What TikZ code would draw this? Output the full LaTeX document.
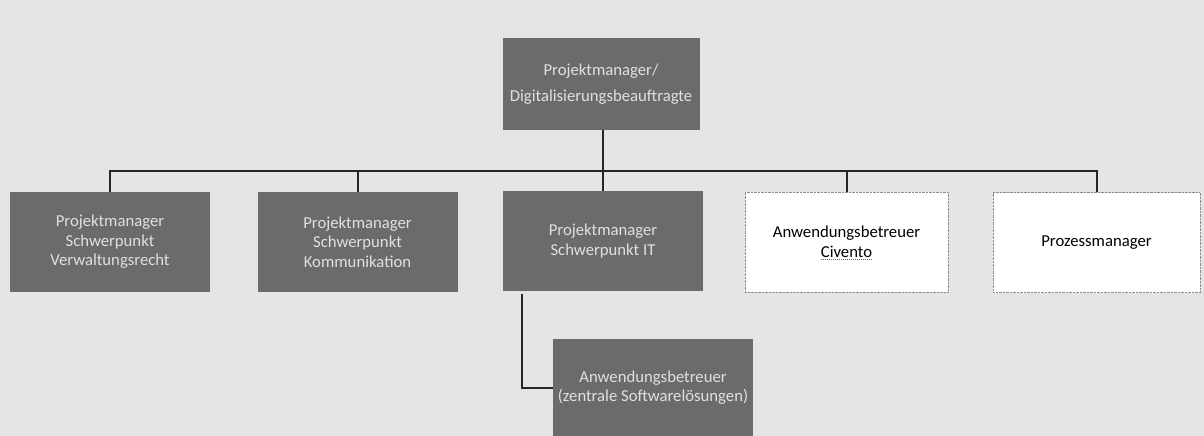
\documentclass[tikz,border=0pt]{standalone}
\usepackage{fontspec}
\setmainfont{Carlito}
\begin{document}
\begin{tikzpicture}[x=1pt,y=-1pt,
    darkbox/.style={fill=black!58, text=white!88!black, align=center,
        inner sep=0pt, minimum width=200pt, minimum height=100pt,
        font=\fontsize{16.7}{19.5}\selectfont},
    lightbox/.style={fill=white, draw=black!45, densely dotted, align=center,
        inner sep=0pt, minimum width=204pt, minimum height=100pt,
        font=\fontsize{16.7}{19.5}\selectfont},
    conn/.style={draw=black!85, line width=2pt}]
    \useasboundingbox (0,0) rectangle (1204,436);
    \fill[black!10] (0,0) rectangle (1204,436);
    \node[darkbox, minimum width=197pt, minimum height=92pt] (top) at (601,84)
        {Projektmanager/\\[7pt]Digitalisierungsbeauftragte};
    \node[darkbox] (verw) at (110,242) {Projektmanager\\Schwerpunkt\\Verwaltungsrecht};
    \node[darkbox] (komm) at (357.5,242) {Projektmanager\\Schwerpunkt\\Kommunikation};
    \node[darkbox] (it) at (603,241) {Projektmanager\\Schwerpunkt IT};
    \node[lightbox, minimum width=203pt] (civ) at (846.5,242) {Anwendungsbetreuer\\Civento};
    \node[lightbox, minimum width=207pt] (proz) at (1096.5,242.5) {Prozessmanager};
    \node[darkbox, minimum height=97pt] (soft) at (653,387.5)
        {Anwendungsbetreuer\\(zentrale Softwarelösungen)};
    % spelling mark under Civento
    \draw[black!60, densely dotted, line width=1pt] ([xshift=-26pt,yshift=-17pt]civ.center) -- ++(52,0);
    \foreach \n in {verw,komm,it,civ,proz}{
        \draw[conn] ([xshift=2pt]top.south) -- ++(0,41) -| (\n.north);
    }
    \draw[conn] ([xshift=-81pt,yshift=-3pt]it.south) |- (soft.west);
\end{tikzpicture}
\end{document}
